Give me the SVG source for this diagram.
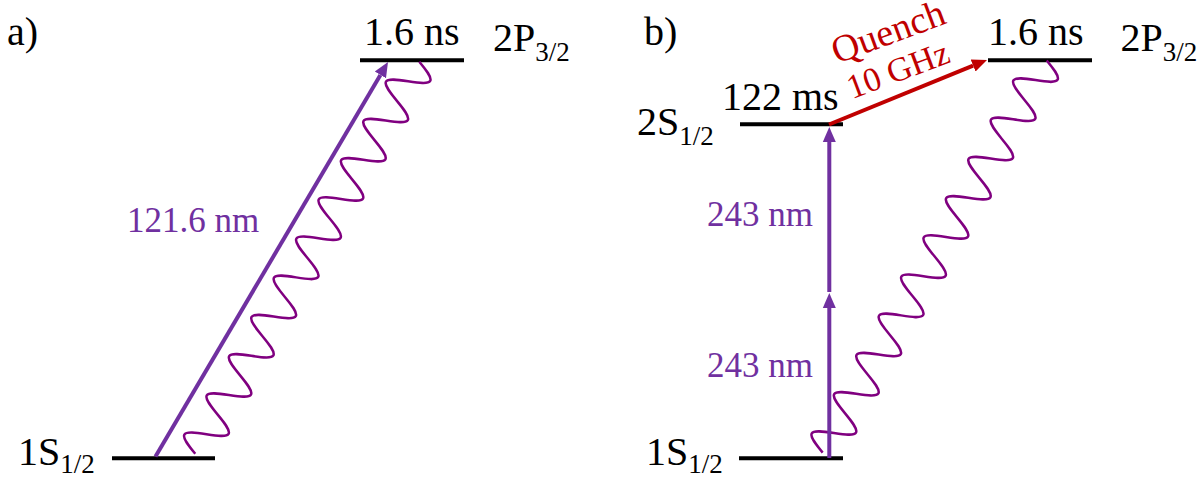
<svg xmlns="http://www.w3.org/2000/svg" width="1204" height="478" viewBox="0 0 1204 478">
<style>
.lbl{font-family:'Liberation Serif','DejaVu Serif',serif;font-size:40px;fill:#000;}
.sub{font-family:'Liberation Serif','DejaVu Serif',serif;font-size:27px;fill:#000;}
.nm{font-family:'Liberation Serif','DejaVu Serif',serif;font-size:35px;fill:#7030A0;}
.red{font-family:'Liberation Serif','DejaVu Serif',serif;fill:#C00000;}
.lvl{stroke:#000;stroke-width:4;fill:none;}
.wave{stroke:#800080;stroke-width:2.5;fill:none;}
.pa{stroke:#7030A0;stroke-width:4;fill:none;marker-end:url(#hp);}
.ra{stroke:#C00000;stroke-width:4;fill:none;marker-end:url(#hr);}
</style>
<defs>
<marker id="hp" markerUnits="userSpaceOnUse" markerWidth="20" markerHeight="16" viewBox="0 -8 20 16" refX="0" refY="0" orient="auto"><path d="M0,-6.5 L15,0 L0,6.5 z" fill="#7030A0"/></marker>
<marker id="hr" markerUnits="userSpaceOnUse" markerWidth="20" markerHeight="16" viewBox="0 -8 20 16" refX="0" refY="0" orient="auto"><path d="M0,-6.5 L15,0 L0,6.5 z" fill="#C00000"/></marker>
<path id="wave" d="M0,0 c3.678,-9.724 7.204,-19 11.29,-19 s7.612,9.276 11.29,19 s7.204,19 11.29,19 s7.612,-9.276 11.29,-19 s7.204,-19 11.29,-19 s7.612,9.276 11.29,19 s7.204,19 11.29,19 s7.612,-9.276 11.29,-19 s7.204,-19 11.29,-19 s7.612,9.276 11.29,19 s7.204,19 11.29,19 s7.612,-9.276 11.29,-19 s7.204,-19 11.29,-19 s7.612,9.276 11.29,19 s7.204,19 11.29,19 s7.612,-9.276 11.29,-19 s7.204,-19 11.29,-19 s7.612,9.276 11.29,19 s7.204,19 11.29,19 s7.612,-9.276 11.29,-19 s7.204,-19 11.29,-19 s7.612,9.276 11.29,19 s7.204,19 11.29,19 s7.612,-9.276 11.29,-19 s7.204,-19 11.29,-19 s7.612,9.276 11.29,19 s7.204,19 11.29,19 s7.612,-9.276 11.29,-19 s7.204,-19 11.29,-19 s7.612,9.276 11.29,19 s7.204,19 11.29,19 s7.612,-9.276 11.29,-19 s7.204,-19 11.29,-19 s7.612,9.276 11.29,19 s7.204,19 11.29,19 s7.612,-9.276 11.29,-19 s7.204,-19 11.29,-19 s7.612,9.276 11.29,19 s7.204,19 11.29,19 s7.612,-9.276 11.29,-19"/>
</defs>
<rect width="1204" height="478" fill="#fff"/>
<text class="lbl" x="7" y="45">a)</text>
<text class="lbl" x="644" y="45">b)</text>

<g id="a-2P">
<line class="lvl" x1="360" y1="60.3" x2="464" y2="60.3"/>
<text class="lbl" x="364" y="45">1.6 ns</text>
<text class="lbl" x="493" y="51">2P</text>
<text class="sub" x="535.2" y="61">3/2</text>
</g>
<g id="a-1S">
<line class="lvl" x1="112" y1="458.3" x2="215" y2="458.3"/>
<text class="lbl" x="18" y="465">1S</text>
<text class="sub" x="60.2" y="473" font-size="26">1/2</text>
</g>

<g id="b-2P">
<line class="lvl" x1="988" y1="60.3" x2="1092" y2="60.3"/>
<text class="lbl" x="988" y="45">1.6 ns</text>
<text class="lbl" x="1120.5" y="51">2P</text>
<text class="sub" x="1162.7" y="61">3/2</text>
</g>
<g id="b-2S">
<line class="lvl" x1="740" y1="124.3" x2="843" y2="124.3"/>
<text class="lbl" x="722" y="110">122 ms</text>
<text class="lbl" x="637" y="135">2S</text>
<text class="sub" x="679.2" y="145">1/2</text>
</g>
<g id="b-1S">
<line class="lvl" x1="739" y1="458.3" x2="843" y2="458.3"/>
<text class="lbl" x="646" y="465">1S</text>
<text class="sub" x="688.2" y="473" font-size="26">1/2</text>
</g>

<g id="connectors">
<use href="#wave" class="wave" transform="translate(419.3,61.7) rotate(119.74)"/>
<use href="#wave" class="wave" transform="translate(1046.7,60.5) rotate(119.74)"/>
<line class="pa" x1="155.5" y1="456.5" x2="380.4" y2="74.9"/>
<line class="pa" x1="829.3" y1="458" x2="829.3" y2="308"/>
<line class="pa" x1="829.3" y1="292" x2="829.3" y2="142"/>
<line class="ra" x1="829" y1="124.5" x2="973.1" y2="65.6"/>
<text class="nm" x="127" y="232">121.6 nm</text>
<text class="nm" x="707" y="226">243 nm</text>
<text class="nm" x="707" y="377">243 nm</text>
<text class="red" font-size="38" transform="translate(837,64) rotate(-20.3)">Quench</text>
<text class="red" font-size="34" text-anchor="middle" transform="translate(902,80.5) rotate(-20.6)">10 GHz</text>
</g>
</svg>
